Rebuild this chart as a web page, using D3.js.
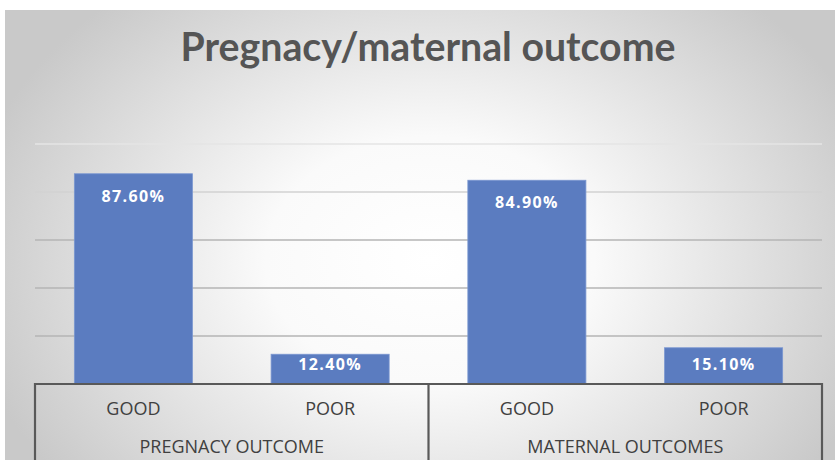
<!DOCTYPE html>
<html><head><meta charset="utf-8">
<script src="https://cdn.jsdelivr.net/npm/d3@7"></script>
<style>html,body{margin:0;padding:0;background:#fff;}svg{display:block;}</style>
</head><body>
<svg id="c" width="835" height="462"></svg>
<script>
const groups = ["PREGNACY OUTCOME", "MATERNAL OUTCOMES"];
const categories = ["GOOD", "POOR"];
const values = [87.6, 12.4, 84.9, 15.1];
const labels = ["87.60%", "12.40%", "84.90%", "15.10%"];
const yTicks = [20, 40, 60, 80, 100];
const title = "Pregnacy/maternal outcome";

(function(){
const W = 835, H = 462;
const svg = d3.select("#c");
const defs = svg.append("defs");
const rg = defs.append("radialGradient").attr("id","bg")
  .attr("gradientUnits","userSpaceOnUse").attr("cx",430).attr("cy",260).attr("r",470)
  .attr("gradientTransform","translate(430,260) scale(1,0.75) translate(-430,-260)");
rg.append("stop").attr("offset","0%").attr("stop-color","#ffffff");
rg.append("stop").attr("offset","35%").attr("stop-color","#fafafa");
rg.append("stop").attr("offset","100%").attr("stop-color","#c9c9c9");
svg.append("rect").attr("x",5).attr("y",10).attr("width",W-5).attr("height",H-12).attr("fill","url(#bg)");

const left = 35, right = 822, base = 384, yTop = 144, bottom = 460;
const keys = [];
groups.forEach(g => categories.forEach(c => keys.push(g + "|" + c)));
const x = d3.scaleBand().domain(keys).range([left, right]).paddingInner(0.4).paddingOuter(0.2);
const xg = d3.scaleBand().domain(groups).range([left, right]);
const y = d3.scaleLinear().domain([0, 100]).range([base, yTop]);

const gridCol = ["#b4b4b4", "#b4b4b4", "#b4b4b4", "#d2d2d2", "#e4e4e4"];
svg.append("g").selectAll("line").data(yTicks).join("line")
  .attr("x1", left).attr("x2", right)
  .attr("y1", d => y(d)).attr("y2", d => y(d))
  .attr("stroke", (d,i) => gridCol[i]).attr("stroke-width", 1.3);

svg.append("g").selectAll("rect").data(values).join("rect")
  .attr("x", (d,i) => x(keys[i])).attr("width", x.bandwidth())
  .attr("y", d => y(d)).attr("height", d => base - y(d))
  .attr("fill", "#5b7cc0").attr("stroke", "#7a96d0").attr("stroke-width", 0.8);

const font = "'Open Sans', sans-serif";
svg.append("g").selectAll("text").data(values).join("text")
  .attr("x", (d,i) => x(keys[i]) + x.bandwidth()/2)
  .attr("y", d => Math.min(y(d) + 28, 370))
  .attr("text-anchor", "middle")
  .attr("font-family", font).attr("font-weight", "bold")
  .attr("font-size", 16).attr("letter-spacing", 1.4).attr("fill", "#ffffff")
  .text((d,i) => labels[i]);

svg.append("line").attr("x1", left).attr("x2", right).attr("y1", base).attr("y2", base)
  .attr("stroke", "#595959").attr("stroke-width", 2.2);
const seps = [left].concat(groups.map(g => xg(g) + xg.bandwidth()));
svg.append("g").selectAll("line").data(seps).join("line")
  .attr("x1", d => d).attr("x2", d => d).attr("y1", base - 1).attr("y2", bottom)
  .attr("stroke", "#595959").attr("stroke-width", 2.2);

svg.append("g").selectAll("text").data(keys).join("text")
  .attr("x", d => x(d) + x.bandwidth()/2).attr("y", 414.5)
  .attr("text-anchor", "middle").attr("font-family", font).attr("font-size", 18)
  .attr("fill", "#404040").text(d => d.split("|")[1]);
svg.append("g").selectAll("text").data(groups).join("text")
  .attr("x", d => xg(d) + xg.bandwidth()/2).attr("y", 452.5)
  .attr("text-anchor", "middle").attr("font-family", font).attr("font-size", 18)
  .attr("fill", "#404040").text(d => d);

const t = svg.append("text").attr("x", 428).attr("y", 61).attr("text-anchor", "middle")
  .attr("font-family", "Lato, 'Open Sans', sans-serif").attr("font-weight", "bold").attr("font-size", 33)
  .attr("fill", "#555555").text(title);
const tl = t.node().getComputedTextLength();
if (tl > 0) t.attr("font-size", 33 * 495 / tl);
})();
</script>
</body></html>
